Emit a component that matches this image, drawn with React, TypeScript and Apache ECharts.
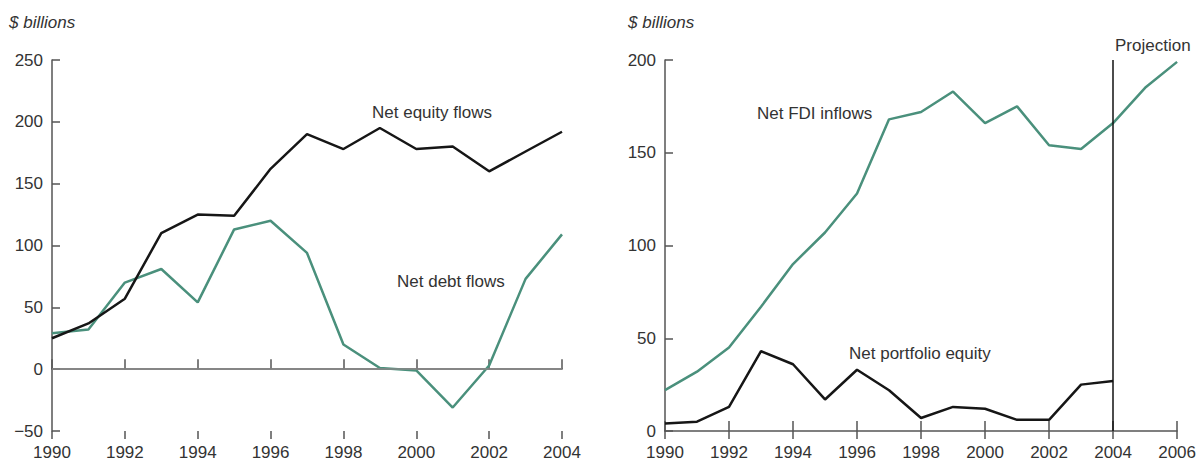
import React, { useEffect, useRef } from "react";
import * as echarts from "echarts";

const yearsLeft = [1990, 1991, 1992, 1993, 1994, 1995, 1996, 1997, 1998, 1999, 2000, 2001, 2002, 2003, 2004];
const netEquityFlows = [25, 37, 57, 110, 125, 124, 162, 190, 178, 195, 178, 180, 160, 176, 192];
const netDebtFlows = [29, 32, 70, 81, 54, 113, 120, 94, 20, 1, -1, -31, 3, 73, 109];

const yearsRight = [1990, 1991, 1992, 1993, 1994, 1995, 1996, 1997, 1998, 1999, 2000, 2001, 2002, 2003, 2004, 2005, 2006];
const netFdiInflows = [22, 32, 45, 67, 90, 107, 128, 168, 172, 183, 166, 175, 154, 152, 166, 185, 199];
const yearsPortfolio = [1990, 1991, 1992, 1993, 1994, 1995, 1996, 1997, 1998, 1999, 2000, 2001, 2002, 2003, 2004];
const netPortfolioEquity = [4, 5, 13, 43, 36, 17, 33, 22, 7, 13, 12, 6, 6, 25, 27];

const FONT = "'Liberation Sans', Arial, sans-serif";
const TEXT = "#333";
const AXIS = "#555";
const GREEN = "#4a907c";
const BLACK = "#161616";

const pairs = (xs: number[], ys: number[]) => xs.map((x, i) => [x, ys[i]]);

export default function App() {
  const ref = useRef<HTMLDivElement>(null);
  useEffect(() => {
    if (!ref.current) return;
    const chart = echarts.init(ref.current, undefined, { renderer: "svg" });
    const xMain = (gridIndex: number, max: number) => ({
      type: "value",
      gridIndex,
      min: 1990,
      max,
      interval: 2,
      axisLine: { show: true, lineStyle: { color: AXIS, width: 1.5 } },
      axisTick: { show: true, inside: true, length: 10, lineStyle: { color: AXIS, width: 1.5 } },
      axisLabel: { color: TEXT, fontSize: 17, fontFamily: FONT, margin: 13, formatter: (v: number) => String(v) },
      splitLine: { show: false },
    });
    const xOut = (gridIndex: number, max: number) => ({
      type: "value",
      gridIndex,
      position: "bottom",
      min: 1990,
      max,
      interval: 2,
      axisLine: { show: false },
      axisTick: { show: true, inside: false, length: 8, lineStyle: { color: AXIS, width: 1.5 } },
      axisLabel: { show: false },
      splitLine: { show: false },
    });
    const yAx = (gridIndex: number, min: number, max: number) => ({
      type: "value",
      gridIndex,
      min,
      max,
      interval: 50,
      axisLine: { show: true, lineStyle: { color: AXIS, width: 1.5 } },
      axisTick: { show: true, inside: true, length: 8, lineStyle: { color: AXIS, width: 1.5 } },
      axisLabel: {
        color: TEXT,
        fontSize: 17,
        fontFamily: FONT,
        margin: 9,
        formatter: (v: number) => String(v).replace("-", "\u2212"),
      },
      splitLine: { show: false },
    });
    const label = (text: string, x: number, y: number, italic = false) => ({
      type: "text",
      x,
      y,
      style: {
        text,
        fill: TEXT,
        fontSize: 17,
        fontFamily: FONT,
        fontStyle: italic ? "italic" : "normal",
        textVerticalAlign: "middle",
      },
    });
    chart.setOption({
      animation: false,
      grid: [
        { left: 52, top: 60, width: 510, height: 371 },
        { left: 665, top: 60, width: 513, height: 371 },
      ],
      xAxis: [xMain(0, 2004), xOut(0, 2004), xMain(1, 2006), xOut(1, 2006)],
      yAxis: [yAx(0, -50, 250), yAx(1, 0, 200)],
      series: [
        {
          type: "line",
          xAxisIndex: 0,
          yAxisIndex: 0,
          data: pairs(yearsLeft, netDebtFlows),
          showSymbol: false,
          lineStyle: { color: GREEN, width: 2.5 },
          markLine: {
            silent: true,
            symbol: "none",
            label: { show: false },
            lineStyle: { color: "#888", width: 1.5, type: "solid" },
            data: [{ yAxis: 0 }],
          },
          z: 3,
        },
        {
          type: "line",
          xAxisIndex: 0,
          yAxisIndex: 0,
          data: pairs(yearsLeft, netEquityFlows),
          showSymbol: false,
          lineStyle: { color: BLACK, width: 2.5 },
          z: 4,
        },
        {
          type: "line",
          xAxisIndex: 2,
          yAxisIndex: 1,
          data: pairs(yearsRight, netFdiInflows),
          showSymbol: false,
          lineStyle: { color: GREEN, width: 2.5 },
          markLine: {
            silent: true,
            symbol: "none",
            label: { show: false },
            lineStyle: { color: "#111", width: 1.5, type: "solid" },
            data: [{ xAxis: 2004 }],
          },
        },
        {
          type: "line",
          xAxisIndex: 2,
          yAxisIndex: 1,
          data: pairs(yearsPortfolio, netPortfolioEquity),
          showSymbol: false,
          lineStyle: { color: BLACK, width: 2.5 },
        },
      ],
      graphic: [
        label("$ billions", 9, 22, true),
        label("$ billions", 628, 22, true),
        label("Net equity flows", 372, 112),
        label("Net debt flows", 397, 281),
        label("Net FDI inflows", 757, 113),
        label("Net portfolio equity", 849, 353),
        label("Projection", 1115, 45),
      ],
    });
    return () => chart.dispose();
  }, []);
  return (
    <div
      ref={ref}
      style={{ position: "fixed", left: 0, top: 0, width: 1199, height: 463, background: "#fff" }}
    />
  );
}
